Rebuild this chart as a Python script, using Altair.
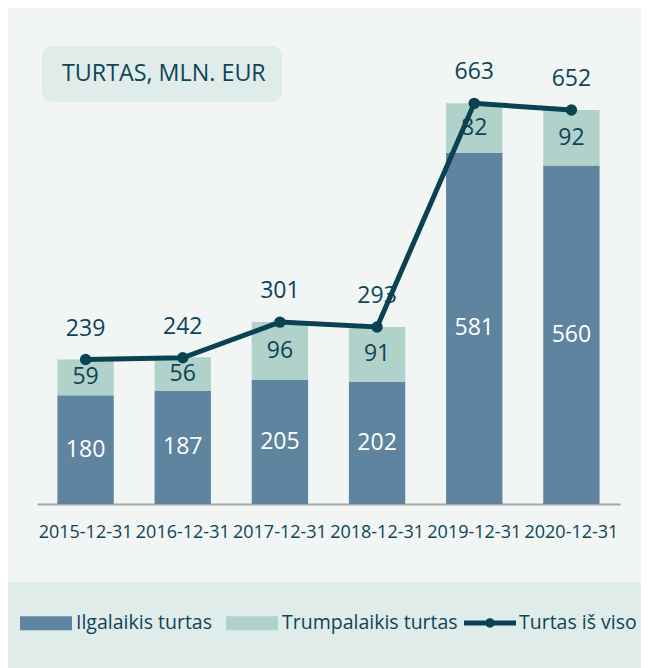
import altair as alt
import pandas as pd

# ---- data ----
dates = ["2015-12-31", "2016-12-31", "2017-12-31", "2018-12-31", "2019-12-31", "2020-12-31"]
ilgalaikis = [180, 187, 205, 202, 581, 560]
trumpalaikis = [59, 56, 96, 91, 82, 92]
total = [239, 242, 301, 293, 663, 652]
series_names = ["Ilgalaikis turtas", "Trumpalaikis turtas", "Turtas iš viso"]
title_text = "TURTAS, MLN. EUR"

# ---- style ----
FONT = "Open Sans"
DARK = "#0b4252"
TEXT = "#0e4457"
C_LONG = "#5e849f"
C_SHORT = "#b0d2ca"
BG = "#f1f5f4"
BAND = "#e0ecea"

rows = []
for i, d in enumerate(dates):
    rows.append(dict(date=d, series=series_names[0], value=ilgalaikis[i],
                     start=0, end=ilgalaikis[i], order=0))
    rows.append(dict(date=d, series=series_names[1], value=trumpalaikis[i],
                     start=ilgalaikis[i], end=ilgalaikis[i] + trumpalaikis[i], order=1))
bars_df = pd.DataFrame(rows)
bars_df["mid"] = (bars_df["start"] + bars_df["end"]) / 2
tot_df = pd.DataFrame(dict(date=dates, total=total, series=series_names[2]))
one = pd.DataFrame({"k": [0]})

xenc = alt.X("date:N", sort=dates, title=None,
             scale=alt.Scale(paddingInner=0.42, paddingOuter=0.21),
             axis=alt.Axis(labelAngle=0, ticks=False, tickSize=0, labelPadding=19,
                           labelFontSize=18, labelFont=FONT, labelColor=TEXT,
                           domainColor="#a7a7a7", domainWidth=2, grid=False))
yscale = alt.Scale(domain=[0, 700])

band = alt.Chart(one).mark_rect(color=BAND).encode(
    x=alt.value(-29), x2=alt.value(604), y=alt.value(501), y2=alt.value(590))
title_box = alt.Chart(one).mark_rect(color=BAND, cornerRadius=10).encode(
    x=alt.value(5), x2=alt.value(245), y=alt.value(-35), y2=alt.value(21))
title = alt.Chart(one).mark_text(align="left", baseline="middle", fontSize=23.3,
                                 font=FONT, color=TEXT).encode(
    x=alt.value(25), y=alt.value(-7), text=alt.value(title_text))

bars = alt.Chart(bars_df).mark_bar().encode(
    x=xenc,
    y=alt.Y("start:Q", scale=yscale, axis=None),
    y2="end:Q",
    fill=alt.Fill("series:N",
                  scale=alt.Scale(domain=series_names[:2], range=[C_LONG, C_SHORT]),
                  legend=alt.Legend(title=None, orient="none", legendX=-17, legendY=516,
                                    direction="horizontal", padding=0,
                                    symbolType="M-1,-0.27H1V0.27H-1Z", symbolSize=2704,
                                    symbolStrokeWidth=0, labelFontSize=19.5, labelFont=FONT,
                                    labelColor=TEXT, labelOffset=4, columnPadding=14,
                                    labelLimit=400)),
)

seg_labels = alt.Chart(bars_df).mark_text(baseline="middle", fontSize=23, font=FONT).encode(
    x=alt.X("date:N", sort=dates),
    y=alt.Y("mid:Q", scale=yscale),
    text="value:Q",
    color=alt.Color("series:N",
                    scale=alt.Scale(domain=series_names[:2], range=["#ffffff", TEXT]),
                    legend=None),
)

tot_labels = alt.Chart(tot_df).mark_text(baseline="middle", fontSize=23, font=FONT,
                                         color=TEXT, dy=-31).encode(
    x=alt.X("date:N", sort=dates),
    y=alt.Y("total:Q", scale=yscale),
    text="total:Q",
)

line = alt.Chart(tot_df).mark_line(color=DARK, strokeWidth=5).encode(
    x=alt.X("date:N", sort=dates),
    y=alt.Y("total:Q", scale=yscale),
)

pts = alt.Chart(tot_df).mark_point(filled=True, size=130, opacity=1).encode(
    x=alt.X("date:N", sort=dates),
    y=alt.Y("total:Q", scale=yscale),
    fill=alt.Fill("series:N",
                  scale=alt.Scale(domain=[series_names[2]], range=[DARK]),
                  legend=alt.Legend(title=None, orient="none", legendX=427, legendY=516,
                                    direction="horizontal", padding=0,
                                    symbolType="M-1,-0.1H1V0.1H-1Z M-0.18,0 A0.18,0.18 0 1 1 0.18,0 A0.18,0.18 0 1 1 -0.18,0 Z",
                                    symbolSize=2704, symbolStrokeWidth=0,
                                    labelFontSize=19.5, labelFont=FONT, labelColor=TEXT,
                                    labelOffset=3, labelLimit=400)),
)

chart = alt.layer(
    band, title_box, title, bars, seg_labels, tot_labels, line, pts
).resolve_scale(fill="independent", color="independent").properties(
    width=583, height=423,
    autosize=alt.AutoSizeParams(type="none"),
    padding={"left": 29, "top": 73, "right": 21, "bottom": 164},
    background=BG,
).configure_view(stroke=None)

chart.save("out.html", embed_options={"renderer": "svg", "actions": False})
